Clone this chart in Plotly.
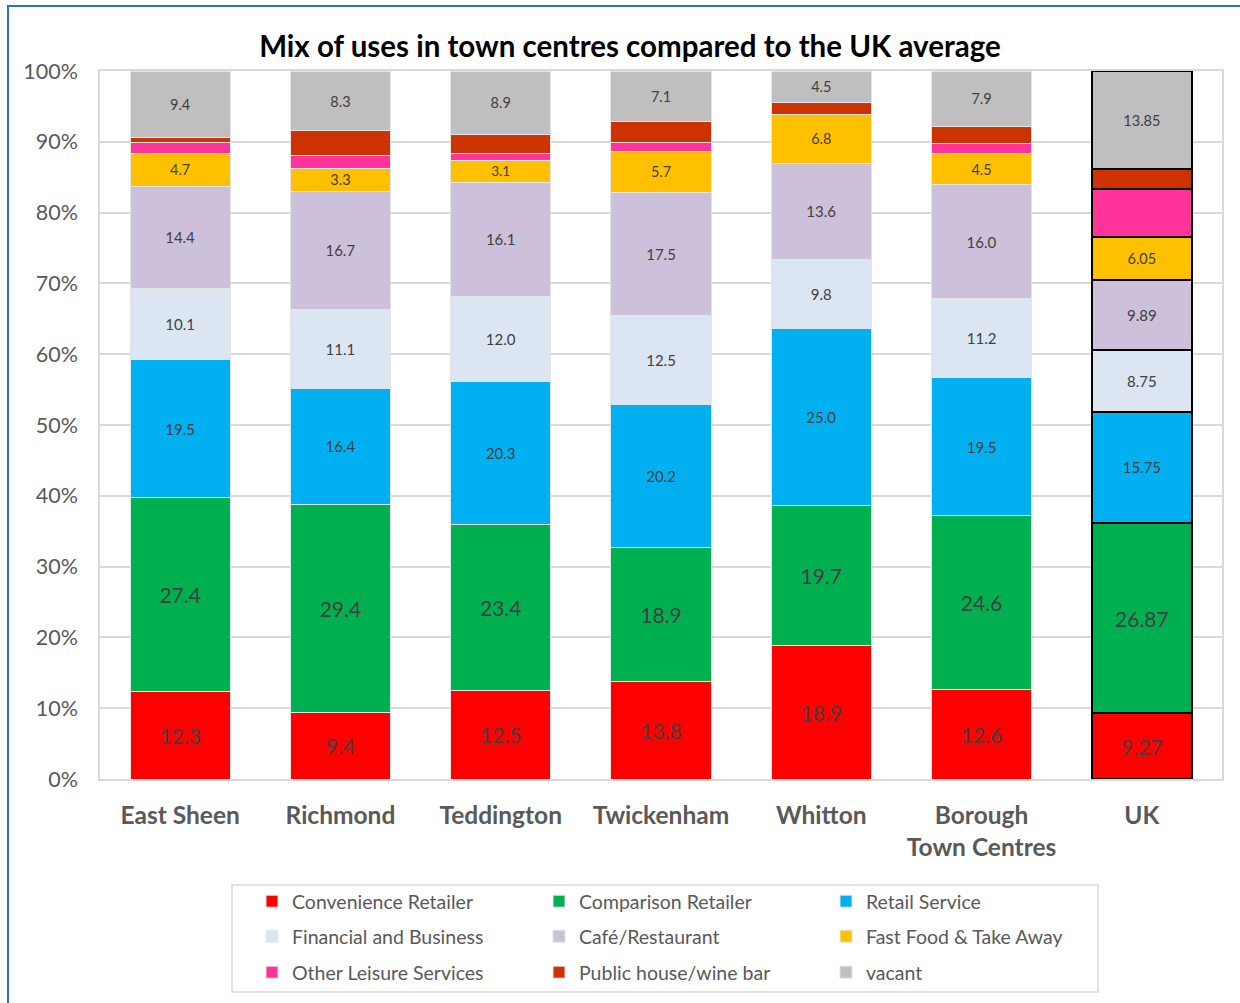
import plotly.graph_objects as go

# Town centres and the UK benchmark
places = ["East Sheen", "Richmond", "Teddington", "Twickenham", "Whitton",
          "Borough<br>Town Centres", "UK"]

# Share of units by use class (%)
convenience = [12.3, 9.4, 12.5, 13.8, 18.9, 12.6, 9.27]
comparison = [27.4, 29.4, 23.4, 18.9, 19.7, 24.6, 26.87]
retail_service = [19.5, 16.4, 20.3, 20.2, 25.0, 19.5, 15.75]
financial = [10.1, 11.1, 12.0, 12.5, 9.8, 11.2, 8.75]
cafe = [14.4, 16.7, 16.1, 17.5, 13.6, 16.0, 9.89]
fast_food = [4.7, 3.3, 3.1, 5.7, 6.8, 4.5, 6.05]
other_leisure = [1.5, 1.7, 1.0, 1.3, 0.0, 1.3, 6.8]
pub = [0.7, 3.6, 2.7, 3.0, 1.7, 2.4, 2.77]
vacant = [9.4, 8.3, 8.9, 7.1, 4.5, 7.9, 13.85]

y_ticks = [0, 10, 20, 30, 40, 50, 60, 70, 80, 90, 100]
y_tick_text = [f"{t}%" for t in y_ticks]

series = [
    # name, values, colour, label size (None = unlabelled), legend row
    ("Convenience Retailer", convenience, "#FF0000", 21, "legend"),
    ("Comparison Retailer", comparison, "#00B050", 21, "legend"),
    ("Retail Service", retail_service, "#00B0F0", 15, "legend"),
    ("Financial and Business", financial, "#DCE6F2", 15, "legend2"),
    ("Café/Restaurant", cafe, "#CCC0DA", 15, "legend2"),
    ("Fast Food & Take Away", fast_food, "#FFC000", 14.5, "legend2"),
    ("Other Leisure Services", other_leisure, "#FF3399", None, "legend3"),
    ("Public house/wine bar", pub, "#CC3300", None, "legend3"),
    ("vacant", vacant, "#BFBFBF", 14.5, "legend3"),
]

FONT = "Lato, 'Open Sans', sans-serif"
n = len(places)
line_colors = ["#E4E4E4"] * (n - 1) + ["#000000"]
line_widths = [1] * (n - 1) + [2]

fig = go.Figure()
for name, vals, color, size, lg in series:
    if size is None:
        text = [""] * n
    else:
        text = [f"{v:.1f}" for v in vals[:-1]] + [f"{vals[-1]:.2f}"]
    fig.add_trace(go.Bar(
        name=name, x=places, y=vals, text=text,
        textposition="inside", insidetextanchor="middle",
        textangle=0,
        textfont=dict(family=FONT, size=size or 12, color="#404040"),
        marker=dict(color=color, line=dict(color=line_colors, width=line_widths)),
        legend=lg,
        hoverinfo="name+y",
    ))

L, R, T, B = 100, 18, 71, 224
W, H = 1240, 1003
pw, ph = W - L - R, H - T - B


def px_x(x):
    return (x - L) / pw


def px_y(y):
    return (H - B - y) / ph


legend_common = dict(
    orientation="h", xanchor="left", yanchor="top",
    xref="container", yref="container",
    entrywidth=242, entrywidthmode="pixels",
    font=dict(family=FONT, size=19.5, color="#595959"),
    bgcolor="rgba(0,0,0,0)", itemclick=False, itemdoubleclick=False,
    traceorder="normal",
)

fig.update_layout(
    width=W, height=H,
    margin=dict(l=L, r=R, t=T, b=B, autoexpand=False),
    paper_bgcolor="white", plot_bgcolor="white",
    barmode="stack", bargap=0.376,
    title=dict(
        text="<b>Mix of uses in town centres compared to the UK average</b>",
        x=630 / W, xanchor="center", y=1 - 47 / H, yanchor="middle",
        font=dict(family=FONT, size=29.5, color="#000000"),
    ),
    xaxis=dict(
        showgrid=False, showline=True, linecolor="#D9D9D9", linewidth=1.5,
        mirror=True, ticks="outside", ticklen=14, tickcolor="rgba(0,0,0,0)",
        tickfont=dict(family=FONT, size=24.5, color="#595959", weight="bold"),
    ),
    yaxis=dict(
        range=[0, 100], tickvals=y_ticks, ticktext=y_tick_text,
        showgrid=True, gridcolor="#D9D9D9", gridwidth=1.5,
        showline=True, linecolor="#D9D9D9", linewidth=1.5, mirror=True,
        zeroline=False, ticklabelstandoff=16,
        tickfont=dict(family=FONT, size=21.5, color="#595959"),
    ),
    showlegend=True,
    legend=dict(x=252 / W, y=1 - 882 / H, **legend_common),
    legend2=dict(x=252 / W, y=1 - 917 / H, **legend_common),
    legend3=dict(x=252 / W, y=1 - 953 / H, **legend_common),
    shapes=[
        # legend frame
        dict(type="rect", xref="paper", yref="paper",
             x0=px_x(232), x1=px_x(1098), y0=px_y(885), y1=px_y(992),
             line=dict(color="#D9D9D9", width=1.5), fillcolor="rgba(0,0,0,0)"),
        # outer chart frame
        dict(type="rect", xref="paper", yref="paper",
             x0=px_x(8), x1=px_x(1250), y0=px_y(1015), y1=px_y(6),
             line=dict(color="#2E75B6", width=2), fillcolor="rgba(0,0,0,0)"),
    ],
)

fig.write_html("out.html")
